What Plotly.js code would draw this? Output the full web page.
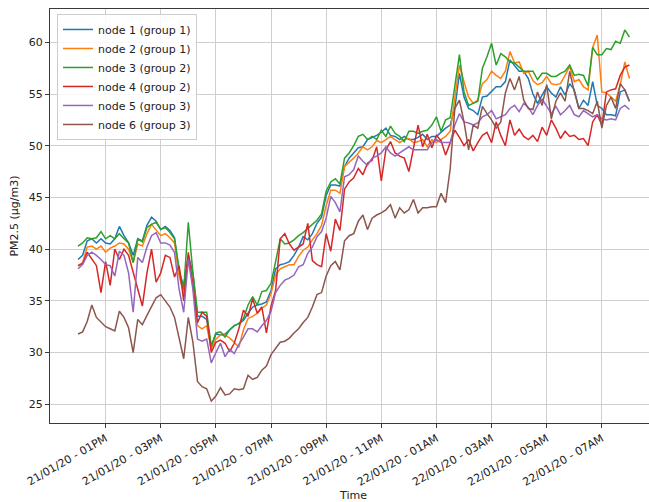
<!DOCTYPE html>
<html>
<head>
<meta charset="utf-8">
<script src="https://cdn.plot.ly/plotly-3.0.1.min.js"></script>
<style>
html,body{margin:0;padding:0;overflow:hidden;background:#fff;width:649px;height:502px;}
#chart{width:657px;height:502px;}
</style>
</head>
<body>
<div id="chart"></div>
<script>
// Sampling: one reading every 10 minutes from 21/01/20 12:00
const startTime = "2020-01-21T12:00:00";
const stepMinutes = 10;

const seriesNames = ["node 1 (group 1)", "node 2 (group 1)", "node 3 (group 2)", "node 4 (group 2)", "node 5 (group 3)", "node 6 (group 3)"];

const node1 = [39.0,39.4,40.8,41.0,40.6,41.0,40.6,40.5,41.0,42.2,41.3,40.6,39.4,41.0,40.8,42.3,43.1,42.7,41.9,42.2,41.8,41.1,37.7,36.5,39.4,37.7,33.5,33.5,33.2,30.6,31.8,
  31.7,31.8,32.2,32.6,32.8,33.1,33.8,34.4,34.6,34.7,34.9,36.0,38.1,38.5,38.6,38.8,39.4,40.2,41.2,40.9,41.5,42.5,43.1,45.2,
  46.2,46.2,46.1,48.0,48.8,49.3,49.8,49.9,50.6,50.8,51.0,51.3,51.7,51.0,50.9,50.6,50.9,50.6,50.6,50.8,51.1,50.6,50.9,50.9,51.3,51.7,52.0,
  53.6,57.0,54.7,53.6,53.4,53.0,54.7,54.8,55.3,55.7,55.7,56.2,58.3,57.8,57.2,57.2,56.5,55.0,54.1,54.9,55.7,55.1,54.7,55.7,54.9,56.0,55.4,53.6,54.4,53.9,56.2,53.9,53.6,53.0,53.0,52.9,55.2,55.4,54.3];

const node2 = [38.4,38.7,40.2,40.3,40.0,40.3,39.7,40.1,40.3,40.6,40.5,40.0,38.7,40.5,40.3,41.5,42.4,41.8,41.3,41.5,41.1,40.6,37.4,35.8,39.0,36.8,32.6,32.3,32.6,30.3,31.3,
  31.7,31.7,31.4,31.0,30.5,32.2,33.3,33.5,33.8,34.3,34.6,35.7,37.5,38.1,38.3,38.5,38.5,39.3,39.9,40.2,40.9,41.5,42.3,44.2,
  45.7,45.7,45.4,48.0,48.4,48.8,49.3,49.9,49.6,49.9,50.5,50.3,50.6,50.9,50.6,50.3,50.6,50.7,50.3,50.4,50.6,49.9,50.6,50.3,50.6,50.9,51.4,
  54.6,57.8,56.2,54.7,54.1,54.4,56.0,56.4,57.2,56.8,56.5,57.2,59.1,58.0,58.1,57.0,57.2,56.3,55.9,56.1,56.7,56.0,55.9,56.0,56.8,57.7,56.2,56.4,55.7,55.4,59.5,60.7,55.2,55.1,54.7,54.3,55.9,58.1,56.5];

const node3 = [40.3,40.6,41.1,41.0,41.1,41.7,41.0,41.3,41.0,41.5,41.0,40.6,38.7,41.0,40.7,42.1,42.4,42.6,41.9,42.1,41.6,41.0,38.1,36.1,42.6,37.7,33.9,33.9,33.9,30.6,31.9,
  32.0,31.5,32.2,32.6,32.8,33.3,34.6,35.4,34.6,35.9,36.0,36.7,38.8,41.0,40.5,40.6,40.9,41.3,41.6,42.0,42.4,42.8,43.4,45.6,
  46.5,46.8,46.3,48.8,49.3,50.0,50.9,51.1,50.6,50.9,50.6,51.5,50.9,51.9,51.2,50.9,50.4,51.4,51.4,51.2,51.4,51.5,52.0,52.8,51.4,52.5,52.7,
  56.0,58.8,55.2,53.9,54.1,54.3,57.5,58.6,59.9,57.8,58.9,58.6,58.1,58.0,57.6,57.2,57.2,57.2,56.4,57.0,57.0,56.7,56.7,57.0,57.2,57.8,56.8,56.9,56.8,55.8,59.5,58.8,58.8,59.4,59.3,60.1,59.9,61.2,60.5];

const node4 = [38.4,38.6,39.7,39.0,38.4,35.8,38.8,36.5,40.0,39.0,40.0,39.4,37.7,36.1,34.5,37.7,40.0,36.8,37.7,39.4,39.2,37.3,38.4,35.0,39.7,36.5,32.9,33.9,33.5,30.0,31.0,
  31.2,30.9,30.1,30.9,32.3,34.1,33.5,35.2,33.8,34.4,31.9,34.5,36.0,41.0,41.5,40.5,39.9,40.2,40.5,42.5,38.9,38.5,38.3,41.5,
  39.8,42.9,41.8,45.8,46.5,46.9,47.8,47.2,48.3,48.6,49.9,46.6,49.6,50.4,49.3,49.0,48.8,47.5,49.6,52.0,49.9,51.1,49.8,
  51.0,50.5,49.1,50.3,51.5,50.8,50.0,50.6,49.5,50.3,51.0,51.3,50.3,52.3,51.0,50.0,52.5,51.0,51.6,50.9,50.6,51.0,50.4,51.8,51.0,52.5,51.7,50.7,51.4,50.9,51.0,50.6,50.7,50.0,52.3,53.0,52.0,55.2,55.4,55.5,56.8,57.6,57.8];

const node5 = [38.1,38.5,39.4,39.7,39.4,39.0,38.5,38.4,37.4,39.8,39.4,37.7,33.9,39.2,38.7,40.2,41.3,41.6,40.6,40.6,40.4,39.7,36.1,33.9,39.0,36.1,31.3,31.1,31.3,29.0,30.0,
  30.9,29.6,30.3,29.9,30.8,31.5,32.3,32.3,32.0,32.6,33.1,34.0,35.8,36.5,37.0,37.2,37.5,38.3,38.5,39.6,40.2,41.2,41.7,43.0,
  45.1,44.5,43.6,47.0,47.2,47.7,49.0,48.5,48.1,48.8,49.0,49.3,49.9,49.3,49.0,49.3,49.6,49.9,49.6,49.6,49.6,49.6,50.3,50.6,50.3,50.3,50.3,
  52.0,53.1,52.3,52.2,52.0,52.2,52.8,53.0,53.4,52.6,52.8,53.0,53.6,53.9,53.3,54.1,53.7,53.0,53.9,54.5,53.8,53.1,53.8,53.0,53.4,53.9,53.0,52.8,53.4,53.1,52.8,53.0,52.6,52.5,52.6,52.5,53.6,53.9,53.5];

const node6 = [31.8,32.0,33.0,34.6,33.4,32.9,32.5,32.3,32.1,34.0,33.4,32.4,30.0,33.2,32.7,33.6,34.4,35.3,35.6,35.0,34.4,33.4,31.5,29.4,33.4,31.0,27.2,26.7,26.5,25.3,25.8,
  26.6,25.9,26.0,26.5,26.4,26.5,27.8,27.4,27.6,28.3,28.7,29.8,30.4,31.0,31.1,31.4,31.9,32.3,32.9,33.4,34.4,35.6,35.8,37.4,
  38.4,38.8,38.0,40.8,41.3,41.5,42.7,43.3,41.9,43.0,43.3,43.5,43.8,44.3,43.0,44.0,43.5,43.8,44.8,43.5,44.0,44.0,44.1,44.1,45.4,44.5,
  47.8,53.6,54.4,52.3,49.6,52.0,51.7,53.8,53.1,52.5,51.7,52.3,55.1,56.5,55.4,56.7,54.4,53.6,53.5,55.2,53.9,55.9,52.6,54.3,55.1,54.3,57.2,55.2,53.6,53.6,53.4,53.1,54.3,51.7,53.9,54.7,53.6,56.0,55.4,54.3];

const tickValues = ["2020-01-21 13:00","2020-01-21 15:00","2020-01-21 17:00","2020-01-21 19:00","2020-01-21 21:00","2020-01-21 23:00","2020-01-22 01:00","2020-01-22 03:00","2020-01-22 05:00","2020-01-22 07:00"];
const tickLabels = ["21/01/20 - 01PM","21/01/20 - 03PM","21/01/20 - 05PM","21/01/20 - 07PM","21/01/20 - 09PM","21/01/20 - 11PM","22/01/20 - 01AM","22/01/20 - 03AM","22/01/20 - 05AM","22/01/20 - 07AM"];
const yTicks = [25,30,35,40,45,50,55,60];

const colors = ["#1f77b4","#ff7f0e","#2ca02c","#d62728","#9467bd","#8c564b"];

function pad(n){return (n<10?"0":"")+n;}
function timeAxis(count){
  const t0 = new Date(startTime + "Z").getTime();
  const out = [];
  for(let i=0;i<count;i++){
    const d = new Date(t0 + i*stepMinutes*60000);
    out.push(d.getUTCFullYear()+"-"+pad(d.getUTCMonth()+1)+"-"+pad(d.getUTCDate())+" "+pad(d.getUTCHours())+":"+pad(d.getUTCMinutes()));
  }
  return out;
}

const allSeries = [node1,node2,node3,node4,node5,node6];
const traces = allSeries.map((vals,i)=>({
  type:"scatter", mode:"lines",
  x: timeAxis(vals.length), y: vals,
  name: seriesNames[i],
  line:{color:colors[i], width:1.5}
}));

const FONT = "DejaVu Sans, Liberation Sans, sans-serif";
const layout = {
  width:657, height:502,
  margin:{l:50, r:0, t:9, b:79, pad:0},
  paper_bgcolor:"#ffffff", plot_bgcolor:"#ffffff",
  font:{family:FONT, size:11, color:"#222222"},
  showlegend:true,
  legend:{x:0.0115, y:0.988, xanchor:"left", yanchor:"top",
    bgcolor:"rgba(255,255,255,0.85)", bordercolor:"#cccccc", borderwidth:1,
    font:{family:FONT, size:11, color:"#222222"}, itemwidth:30, tracegroupgap:0},
  xaxis:{type:"date", range:["2020-01-21 10:59","2020-01-22 09:00"],
    tickmode:"array", tickvals:tickValues, ticktext:tickLabels, tickangle:-30,
    showgrid:true, gridcolor:"#cfcfcf", gridwidth:1,
    showline:true, mirror:true, linecolor:"#3a3a3a", linewidth:1,
    ticks:"outside", ticklen:4, tickcolor:"#3a3a3a", zeroline:false,
    tickfont:{family:FONT, size:11, color:"#222222"},
    title:{text:"Time", font:{family:FONT, size:11, color:"#222222"}}},
  yaxis:{range:[23.19,63.22], tickmode:"array", tickvals:yTicks, ticktext:yTicks.map(String),
    showgrid:true, gridcolor:"#cfcfcf", gridwidth:1,
    showline:true, mirror:true, linecolor:"#3a3a3a", linewidth:1,
    ticks:"outside", ticklen:4, tickcolor:"#3a3a3a", zeroline:false,
    tickfont:{family:FONT, size:11, color:"#222222"},
    title:{text:"PM2.5 (μg/m3)", font:{family:FONT, size:11, color:"#222222"}}}
};

Plotly.newPlot("chart", traces, layout, {displayModeBar:false, staticPlot:true});
</script>
</body>
</html>
